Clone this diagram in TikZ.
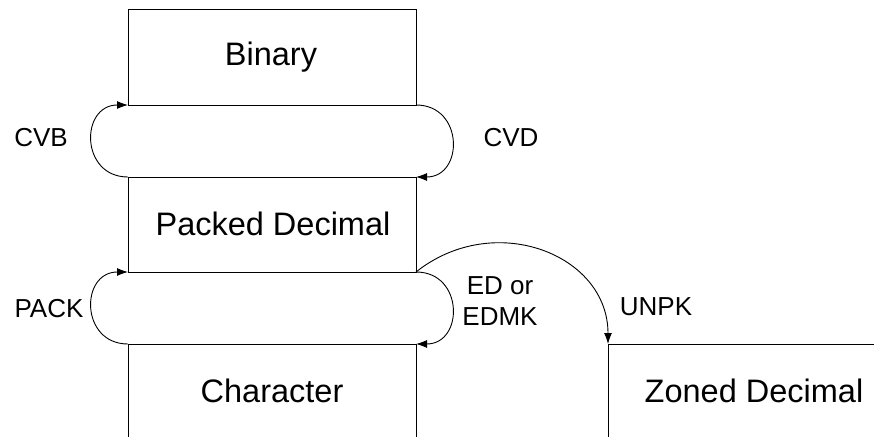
\documentclass[tikz,border=0pt]{standalone}
\usepackage{fontspec}
\setmainfont{Liberation Sans}
\usepackage{tikz}
\usetikzlibrary{arrows.meta}

\begin{document}
\begin{tikzpicture}[
x                  = 1pt,
y                  = 1pt,
line width         = 0.9pt,
every node/.style  = {inner sep=0pt, anchor=base},
fmt/.style         = {font=\fontsize{32.5}{38}\selectfont},
instr/.style       = {font=\fontsize{26}{31}\selectfont},
flow/.style        = {draw, -{Latex[length=11pt,width=8pt]}}
]
\useasboundingbox (0,0) rectangle (886,437);

% corners of the format strips
\coordinate (bin-tl) at (128,428);
\coordinate (bin-tr) at (416,428);
\coordinate (bin-bl) at (128,332);
\coordinate (bin-br) at (416,332);
\coordinate (pkd-tl) at (128,260);
\coordinate (pkd-tr) at (416,260);
\coordinate (pkd-bl) at (128,165);
\coordinate (pkd-br) at (416,165);
\coordinate (chr-tl) at (128,93);
\coordinate (chr-tr) at (416,93);
\coordinate (chr-bl) at (128,0);
\coordinate (chr-br) at (416,0);
\coordinate (znd-tl) at (608,93);
\coordinate (znd-tr) at (874,93);
\coordinate (znd-bl) at (608,0);

\draw (bin-bl) -- (bin-tl) -- (bin-tr) -- (bin-br) -- (bin-bl);
\draw (pkd-bl) -- (pkd-tl) -- (pkd-tr) -- (pkd-br) -- (pkd-bl);
\draw (chr-bl) -- (chr-tl) -- (chr-tr) -- (chr-br);
\draw (znd-bl) -- (znd-tl) -- (znd-tr);

\node [fmt] (bin) at (271,371) {Binary};
\node [fmt] (pkd) at (273,201) {Packed Decimal};
\node [fmt] (chr) at (272,35) {Character};
\node [fmt] (znd) at (754,35) {Zoned Decimal};

% conversions between the formats
\draw [flow] (pkd-tl) .. controls +(-48,0) and +(-48,0) .. (bin-bl);
\draw [flow] (bin-br) .. controls +(48,0) and +(48,0) .. (pkd-tr);
\draw [flow] (chr-tl) .. controls +(-48,0) and +(-48,0) .. (pkd-bl);
\draw [flow] (pkd-br) .. controls +(48,0) and +(48,0) .. (chr-tr);
\draw [flow] (pkd-br) .. controls +(78,62) and +(0,90) .. (znd-tl);

\node [instr] (cvb)  at (41,290)  {CVB};
\node [instr] (cvd)  at (511,290) {CVD};
\node [instr] (pack) at (49,120)  {PACK};
\node [instr, align=center, anchor=north] (edmk) at (500,161) {ED or\\EDMK};
\node [instr] (unpk) at (656,122) {UNPK};
\end{tikzpicture}
\end{document}
